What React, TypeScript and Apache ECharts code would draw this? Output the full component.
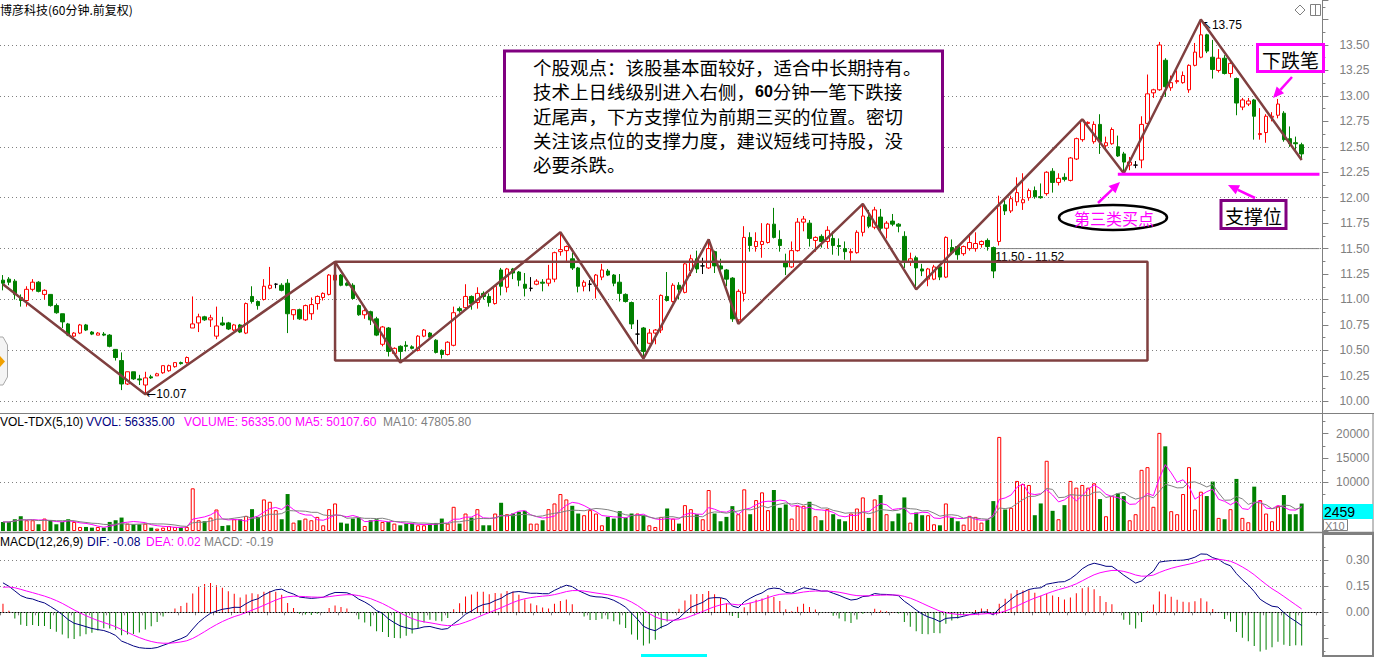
import React, { useEffect, useRef } from 'react';
import * as echarts from 'echarts';

// [open, close, low, high] for each 60-minute bar
const candles: number[][] = [
  [11.19, 11.16, 11.09, 11.24], [11.2, 11.17, 11.14, 11.22], [11.18, 11.05, 11.0, 11.2], [11.02, 10.99, 10.93, 11.05],
  [10.99, 11.1, 10.93, 11.13], [11.1, 11.17, 11.08, 11.2], [11.17, 11.08, 11.07, 11.18], [11.05, 11.09, 11.0, 11.1],
  [11.05, 10.94, 10.93, 11.05], [10.94, 10.87, 10.86, 10.96], [10.86, 10.78, 10.72, 10.86], [10.76, 10.65, 10.64, 10.77],
  [10.64, 10.67, 10.63, 10.68], [10.67, 10.75, 10.66, 10.76], [10.75, 10.7, 10.69, 10.76], [10.68, 10.66, 10.65, 10.69],
  [10.65, 10.67, 10.65, 10.68], [10.66, 10.65, 10.64, 10.68], [10.65, 10.54, 10.53, 10.66], [10.51, 10.43, 10.4, 10.51],
  [10.4, 10.17, 10.11, 10.48], [10.17, 10.29, 10.16, 10.29], [10.29, 10.22, 10.21, 10.29], [10.22, 10.21, 10.16, 10.26],
  [10.16, 10.23, 10.07, 10.29], [10.24, 10.23, 10.22, 10.26], [10.25, 10.27, 10.25, 10.28], [10.28, 10.35, 10.27, 10.35],
  [10.3, 10.35, 10.29, 10.36], [10.34, 10.38, 10.33, 10.38], [10.38, 10.37, 10.36, 10.39], [10.38, 10.43, 10.37, 10.44],
  [10.72, 10.76, 10.72, 11.03], [10.77, 10.83, 10.68, 10.86], [10.83, 10.8, 10.79, 10.84], [10.8, 10.82, 10.73, 10.85],
  [10.64, 10.74, 10.61, 10.93], [10.77, 10.75, 10.74, 10.83], [10.77, 10.71, 10.7, 10.78], [10.7, 10.75, 10.69, 10.76],
  [10.75, 10.68, 10.67, 10.76], [10.67, 10.96, 10.66, 10.97], [11.03, 10.98, 10.96, 11.13], [10.98, 10.94, 10.9, 10.99],
  [11.0, 11.13, 10.99, 11.2], [11.11, 11.14, 11.1, 11.32], [11.15, 11.15, 11.11, 11.16], [11.14, 11.09, 11.08, 11.16],
  [11.16, 10.86, 10.67, 11.2], [10.85, 10.9, 10.8, 10.9], [10.9, 10.81, 10.8, 10.91], [10.8, 10.94, 10.79, 10.95],
  [10.86, 10.95, 10.8, 11.02], [10.96, 11.03, 10.9, 11.04], [11.02, 11.06, 10.99, 11.07], [11.05, 11.24, 11.04, 11.25],
  [11.19, 11.24, 11.17, 11.37], [11.24, 11.14, 11.13, 11.25], [11.16, 11.14, 11.13, 11.17], [11.14, 11.01, 11.0, 11.16],
  [10.94, 10.85, 10.84, 10.95], [10.85, 10.89, 10.81, 10.93], [10.88, 10.8, 10.75, 10.89], [10.81, 10.65, 10.64, 10.83],
  [10.56, 10.73, 10.54, 10.74], [10.72, 10.49, 10.44, 10.73], [10.47, 10.52, 10.46, 10.53], [10.54, 10.49, 10.38, 10.55],
  [10.55, 10.54, 10.49, 10.59], [10.535, 10.52, 10.51, 10.55], [10.5, 10.64, 10.49, 10.65], [10.64, 10.7, 10.63, 10.71],
  [10.67, 10.63, 10.62, 10.68], [10.6, 10.48, 10.47, 10.61], [10.5, 10.46, 10.42, 10.51], [10.46, 10.58, 10.45, 10.59],
  [10.55, 10.87, 10.54, 10.93], [10.91, 10.89, 10.87, 10.93], [10.92, 11.03, 10.9, 11.15], [11.03, 10.96, 10.9, 11.04],
  [10.97, 11.06, 10.91, 11.12], [11.06, 11.03, 11.0, 11.08], [11.03, 10.97, 10.93, 11.06], [10.96, 11.13, 10.95, 11.14],
  [11.29, 11.13, 11.04, 11.31], [11.12, 11.3, 11.07, 11.31], [11.3, 11.26, 11.2, 11.31], [11.27, 11.19, 11.13, 11.28],
  [11.15, 11.11, 11.03, 11.26], [11.11, 11.11, 11.08, 11.22], [11.15, 11.18, 11.14, 11.2], [11.17, 11.16, 11.08, 11.2],
  [11.16, 11.2, 11.13, 11.34], [11.2, 11.46, 11.17, 11.47], [11.47, 11.49, 11.43, 11.66], [11.48, 11.52, 11.36, 11.53],
  [11.4, 11.31, 11.29, 11.46], [11.31, 11.13, 11.07, 11.32], [11.13, 11.17, 11.08, 11.19], [11.15, 11.15, 11.08, 11.19],
  [11.13, 11.24, 11.01, 11.25], [11.22, 11.29, 11.19, 11.35], [11.28, 11.24, 11.23, 11.3], [11.24, 11.16, 11.13, 11.25],
  [11.17, 11.06, 10.98, 11.25], [11.05, 10.98, 10.97, 11.06], [10.97, 10.76, 10.71, 10.98], [10.66, 10.66, 10.56, 10.8],
  [10.72, 10.49, 10.42, 10.73], [10.57, 10.67, 10.56, 10.71], [10.67, 10.7, 10.56, 10.71], [10.7, 11.04, 10.67, 11.05],
  [11.03, 10.99, 10.98, 11.27], [10.98, 11.14, 10.97, 11.16], [11.14, 11.1, 11.0, 11.17], [11.07, 11.35, 11.06, 11.36],
  [11.28, 11.4, 11.23, 11.44], [11.4, 11.3, 11.26, 11.48], [11.33, 11.33, 11.25, 11.41], [11.31, 11.5, 11.3, 11.59],
  [11.47, 11.33, 11.26, 11.48], [11.33, 11.3, 11.27, 11.4], [11.29, 11.2, 11.13, 11.3], [11.21, 10.81, 10.78, 11.22],
  [10.8, 11.08, 10.76, 11.1], [11.06, 11.61, 10.98, 11.72], [11.61, 11.53, 11.47, 11.66], [11.52, 11.57, 11.47, 11.66],
  [11.54, 11.57, 11.41, 11.75], [11.56, 11.74, 11.55, 11.75], [11.74, 11.61, 11.6, 11.9], [11.59, 11.53, 11.47, 11.68],
  [11.36, 11.32, 11.24, 11.45], [11.32, 11.48, 11.31, 11.57], [11.48, 11.76, 11.47, 11.8], [11.76, 11.79, 11.67, 11.82],
  [11.75, 11.6, 11.52, 11.78], [11.58, 11.61, 11.47, 11.62], [11.62, 11.57, 11.51, 11.64], [11.57, 11.68, 11.5, 11.72],
  [11.6, 11.53, 11.44, 11.67], [11.53, 11.52, 11.43, 11.6], [11.5, 11.47, 11.39, 11.57], [11.46, 11.47, 11.36, 11.5],
  [11.46, 11.66, 11.45, 11.68], [11.66, 11.82, 11.62, 11.94], [11.81, 11.72, 11.7, 11.88], [11.71, 11.88, 11.69, 11.91],
  [11.81, 11.7, 11.67, 11.89], [11.7, 11.75, 11.6, 11.77], [11.77, 11.74, 11.72, 11.84], [11.74, 11.72, 11.66, 11.75],
  [11.62, 11.38, 11.31, 11.67], [11.37, 11.4, 11.33, 11.46], [11.41, 11.31, 11.11, 11.43], [11.3, 11.28, 11.23, 11.35],
  [11.2, 11.3, 11.13, 11.31], [11.2, 11.32, 11.19, 11.34], [11.32, 11.22, 11.19, 11.33], [11.22, 11.61, 11.21, 11.62],
  [11.51, 11.46, 11.44, 11.59], [11.52, 11.44, 11.39, 11.53], [11.45, 11.52, 11.43, 11.53], [11.5, 11.56, 11.48, 11.65],
  [11.5, 11.55, 11.47, 11.66], [11.54, 11.57, 11.51, 11.58], [11.58, 11.52, 11.48, 11.6], [11.51, 11.28, 11.21, 11.52],
  [11.57, 11.92, 11.53, 12.02], [11.93, 11.87, 11.83, 12.0], [11.87, 11.99, 11.85, 12.02], [11.96, 12.05, 11.92, 12.2],
  [11.95, 11.98, 11.88, 12.24], [12.0, 12.07, 11.97, 12.09], [12.07, 12.01, 11.99, 12.11], [12.01, 12.0, 11.99, 12.14],
  [12.04, 12.25, 12.02, 12.26], [12.26, 12.15, 12.05, 12.29], [12.15, 12.19, 12.12, 12.24], [12.2, 12.18, 12.16, 12.24],
  [12.17, 12.39, 12.16, 12.4], [12.38, 12.58, 12.37, 12.59], [12.57, 12.76, 12.55, 12.77], [12.73, 12.74, 12.7, 12.75],
  [12.55, 12.72, 12.53, 12.75], [12.72, 12.55, 12.43, 12.82], [12.51, 12.54, 12.48, 12.6], [12.53, 12.67, 12.52, 12.69],
  [12.5, 12.41, 12.4, 12.61], [12.43, 12.35, 12.24, 12.45], [12.32, 12.35, 12.27, 12.4], [12.32, 12.32, 12.29, 12.36],
  [12.37, 12.72, 12.29, 12.8], [12.73, 13.02, 12.72, 13.21], [13.03, 13.06, 12.98, 13.07], [13.06, 13.5, 13.05, 13.53],
  [13.35, 13.09, 12.99, 13.37], [13.08, 13.13, 13.05, 13.2], [13.14, 13.15, 13.12, 13.25], [13.13, 13.2, 13.12, 13.24],
  [13.06, 13.3, 13.03, 13.31], [13.3, 13.43, 13.29, 13.52], [13.38, 13.6, 13.37, 13.75], [13.6, 13.44, 13.42, 13.61],
  [13.38, 13.26, 13.17, 13.55], [13.25, 13.37, 13.23, 13.46], [13.37, 13.22, 13.21, 13.4], [13.22, 13.32, 13.18, 13.34],
  [13.17, 12.93, 12.81, 13.18], [12.89, 12.96, 12.86, 12.98], [12.92, 12.95, 12.9, 12.98], [12.96, 12.8, 12.57, 12.97],
  [12.62, 12.63, 12.57, 12.88], [12.64, 12.8, 12.54, 12.82], [12.79, 12.8, 12.75, 12.84], [12.81, 12.92, 12.78, 12.97],
  [12.83, 12.57, 12.55, 12.85], [12.58, 12.53, 12.5, 12.7], [12.54, 12.53, 12.47, 12.6], [12.52, 12.43, 12.37, 12.54],
];

// volume per bar (shares); the axis shows it in units of 10
const volumes: number[] = [
  18630, 18630, 24150, 30360, 22080, 22080, 13800, 25530, 22080, 13800, 18630, 24150, 18630, 8280, 8280, 6900,
  8280, 6900, 18630, 22080, 27600, 15180, 13800, 13800, 15180, 6900, 4830, 6900, 10350, 8280, 6900, 8280,
  87630, 22080, 20010, 27600, 44160, 10350, 11730, 24150, 24150, 31050, 44850, 28980, 64860, 60030, 42780, 24150,
  75900, 17250, 22080, 25530, 22080, 28980, 11730, 44850, 56580, 17250, 15180, 25530, 27600, 10350, 22080, 24150,
  18630, 18630, 15180, 11730, 15180, 15180, 11730, 11730, 13800, 16560, 25530, 15180, 49680, 15180, 35880, 27600,
  44850, 11730, 11730, 35880, 57960, 34500, 35880, 39330, 41400, 15180, 15180, 22080, 44850, 56580, 75900, 64860,
  51750, 35880, 32430, 42780, 35880, 11730, 28980, 25530, 40710, 27600, 35880, 35880, 32430, 11730, 8280, 28980,
  46230, 25530, 15180, 53130, 44850, 34500, 24150, 84180, 35880, 20010, 28980, 51060, 34500, 85560, 34500, 63480,
  79350, 42780, 84180, 47610, 54510, 25530, 51750, 51750, 60030, 30360, 22080, 44850, 34500, 24150, 20010, 35880,
  46230, 69000, 26910, 64860, 73830, 34500, 20010, 35880, 69000, 17250, 37950, 32430, 32430, 13800, 11730, 56580,
  26910, 20010, 13110, 31050, 28980, 17250, 23460, 61410, 193200, 44160, 47610, 102810, 96600, 94530, 32430, 56580,
  144210, 41400, 24150, 53130, 102810, 89010, 94530, 89010, 97980, 65550, 30360, 71760, 77280, 71760, 22080, 34500,
  125580, 131100, 49680, 201480, 173880, 40710, 34500, 75900, 131100, 44160, 80730, 71760, 101430, 26910, 24150, 44850,
  106950, 26910, 17940, 91080, 63480, 35880, 20010, 51750, 73830, 34500, 34500, 56335,
];

// stroke ("bi") turning points: candle index and price
const biIndex: number[] = [0, 24, 56, 67, 94, 108, 119, 124, 145, 154, 182, 189, 202, 219];
const biPrice: number[] = [11.15, 10.07, 11.37, 10.38, 11.66, 10.42, 11.59, 10.76, 11.94, 11.1, 12.77, 12.24, 13.75, 12.37];

// pivot zone (zhongshu) box
const boxIndex: number[] = [56, 193];
const boxPrice: number[] = [11.37, 10.4];

// support level and the marked price level
const supportIndex: number[] = [188, 222];
const supportPrice = 12.23;
const levelIndex: number[] = [167, 222];
const levelPrice = 11.5;

const priceGrid: number[] = [10, 10.5, 11, 11.5, 12, 12.5, 13, 13.5];
const macdGrid: number[] = [0.15, 0.3];
const volGrid: number[] = [100000];

const commentLines: string[] = [
  '个股观点：该股基本面较好，适合中长期持有。',
  '技术上日线级别进入右侧，{b|60}分钟一笔下跌接',
  '近尾声，下方支撑位为前期三买的位置。密切',
  '关注该点位的支撑力度，建议短线可持股，没',
  '必要杀跌。',
];

const EXTRA_SLOTS = 3;
const categories: string[] = Array.from({ length: candles.length + EXTRA_SLOTS }, (_, i) => String(i + 1));

const CJK = '"Noto Sans CJK SC", sans-serif';
const LAT = '"Liberation Sans", "DejaVu Sans", Arial, sans-serif';
const RED = '#ff0000';
const GREEN = '#008000';
const GRAY = '#808080';
const MAG = '#ff00ff';
const NAVY = '#000080';
const BROWN = '#804040';

function movingAvg(arr: number[], n: number): number[] {
  return arr.map((_, i) => {
    const s = Math.max(0, i - n + 1);
    let sum = 0;
    for (let k = s; k <= i; k++) sum += arr[k];
    return sum / (i - s + 1);
  });
}

function computeMacd(closes: number[]) {
  let e12 = closes[0] + 0.1;
  let e26 = closes[0] - 0.07;
  let dea = 0.145;
  const dif: number[] = [];
  const deaArr: number[] = [];
  const bar: number[] = [];
  closes.forEach((c, i) => {
    if (i > 0) {
      e12 = (e12 * 11) / 13 + (c * 2) / 13;
      e26 = (e26 * 25) / 27 + (c * 2) / 27;
    }
    const d = e12 - e26;
    if (i > 0) dea = dea * 0.8 + d * 0.2;
    dif.push(d);
    deaArr.push(dea);
    bar.push(2 * (d - dea));
  });
  return { dif, dea: deaArr, bar };
}

function arrow(x1: number, y1: number, x2: number, y2: number, color: string): any[] {
  const ang = Math.atan2(y2 - y1, x2 - x1);
  const L = 11;
  const W = 5;
  const bx = x2 - L * Math.cos(ang);
  const by = y2 - L * Math.sin(ang);
  const px = -Math.sin(ang) * W;
  const py = Math.cos(ang) * W;
  return [
    { type: 'line', z: 100, shape: { x1, y1, x2: bx, y2: by }, style: { stroke: color, lineWidth: 2.5 } },
    { type: 'polygon', z: 100, shape: { points: [[x2, y2], [bx + px, by + py], [bx - px, by - py]] }, style: { fill: color } },
  ];
}

function txt(x: number, y: number, text: string, fill: string, font: string, extra: any = {}): any {
  return { type: 'text', z: 100, x, y, style: { text, fill, font, verticalAlign: 'middle', ...extra } };
}

function isMultiple(v: number, step: number) {
  const r = v / step;
  return Math.abs(r - Math.round(r)) < 1e-6;
}

export default function App() {
  const ref = useRef<HTMLDivElement>(null);

  useEffect(() => {
    if (!ref.current) return;
    const chart = echarts.init(ref.current, undefined, { renderer: 'svg' });

    const closes = candles.map((c) => c[1]);
    const macd = computeMacd(closes);
    const ma5 = movingAvg(volumes, 5);
    const ma10 = movingAvg(volumes, 10);

    const candleData = candles.map((c) => {
      if (c[0] === c[1]) {
        return { value: c, itemStyle: { color: '#000', color0: '#000', borderColor: '#000', borderColor0: '#000' } };
      }
      return c;
    });

    const volData = volumes.map((v, i) => {
      const up = candles[i][1] >= candles[i][0];
      return {
        value: v,
        itemStyle: up ? { color: '#ffffff', borderColor: RED, borderWidth: 1 } : { color: GREEN, borderColor: GREEN, borderWidth: 0 },
      };
    });

    const macdData = macd.bar.map((v) => ({ value: v, itemStyle: { color: v >= 0 ? RED : GREEN } }));

    const gridLeft = -1.97;
    const gridWidth = 1324.4;

    const dotted = { type: [1, 3] as any, color: GRAY, width: 1 };

    const yAxisCommon = {
      type: 'value',
      position: 'right',
      scale: true,
      axisLine: { show: true, lineStyle: { color: GRAY, width: 1 } },
      axisTick: { show: true, length: 6, lineStyle: { color: GRAY } },
      minorTick: { show: true, splitNumber: 2, length: 3, lineStyle: { color: GRAY } },
      splitLine: { show: false },
    };

    const arrowRich = { a: { fontFamily: '"DejaVu Sans"', fontSize: 12, color: '#000' } };

    const option: any = {
      animation: false,
      backgroundColor: '#ffffff',
      grid: [
        { left: gridLeft, width: gridWidth, top: 0, height: 413 },
        { left: gridLeft, width: gridWidth, top: 413, height: 118 },
        { left: gridLeft, width: gridWidth, top: 533, height: 122 },
      ],
      xAxis: [0, 1, 2].map((g) => ({
        type: 'category',
        gridIndex: g,
        data: categories,
        boundaryGap: true,
        axisLine: { show: g === 2, lineStyle: { color: GRAY } },
        axisTick: { show: g === 2, interval: 2, length: 3, lineStyle: { color: GRAY } },
        axisLabel: { show: false },
        splitLine: { show: false },
      })),
      yAxis: [
        {
          ...yAxisCommon,
          gridIndex: 0,
          min: 9.885,
          max: 13.942,
          minInterval: 0.25,
          maxInterval: 0.25,
          splitNumber: 16,
          axisLabel: {
            color: GRAY,
            fontSize: 12,
            fontFamily: LAT,
            align: 'right',
            margin: 47,
            formatter: (v: number) => (isMultiple(v, 0.25) && v > 9.99 && v < 13.6 ? v.toFixed(2) : ''),
          },
        },
        {
          ...yAxisCommon,
          gridIndex: 1,
          min: 0,
          max: 242300,
          minInterval: 50000,
          maxInterval: 50000,
          splitNumber: 5,
          axisLabel: {
            color: GRAY,
            fontSize: 12,
            fontFamily: LAT,
            align: 'right',
            margin: 47,
            // the 5000 label sits under the current-value box, as in the source
            formatter: (v: number) => (v > 60000 && isMultiple(v, 50000) ? String(Math.round(v / 10)) : ''),
          },
        },
        {
          ...yAxisCommon,
          gridIndex: 2,
          min: -0.2464,
          max: 0.4576,
          minInterval: 0.15,
          maxInterval: 0.15,
          splitNumber: 5,
          axisLabel: {
            color: GRAY,
            fontSize: 12,
            fontFamily: LAT,
            align: 'right',
            margin: 47,
            formatter: (v: number) => (v > -0.001 && v < 0.4 && isMultiple(v, 0.15) ? v.toFixed(2) : ''),
          },
        },
      ],
      series: [
        {
          type: 'candlestick',
          xAxisIndex: 0,
          yAxisIndex: 0,
          data: candleData,
          barWidth: 4,
          itemStyle: { color: '#ffffff', color0: GREEN, borderColor: RED, borderColor0: GREEN, borderWidth: 1 },
          markLine: {
            silent: true,
            symbol: ['none', 'none'],
            label: { show: false },
            lineStyle: dotted,
            z: 1,
            data: priceGrid.map((p) => ({ yAxis: p })),
          },
          markPoint: {
            symbol: 'circle',
            symbolSize: 0,
            silent: true,
            label: { show: true, position: 'right', distance: 1, color: '#000', fontSize: 12, fontFamily: LAT, rich: arrowRich },
            data: [
              { coord: [biIndex[1], biPrice[1]], label: { formatter: '{a|\u2190}' + biPrice[1].toFixed(2) } },
              { coord: [biIndex[12], biPrice[12]], label: { formatter: '{a|\u2196}' + biPrice[12].toFixed(2), offset: [0, 5] } },
              { coord: [levelIndex[0], levelPrice], label: { formatter: '11.50 - 11.52', offset: [0, 8], distance: 2 } },
            ],
          },
        },
        {
          type: 'line',
          xAxisIndex: 0,
          yAxisIndex: 0,
          data: biIndex.map((x, k) => [x, biPrice[k]]),
          symbol: 'none',
          lineStyle: { color: BROWN, width: 2.5 },
          z: 5,
        },
        {
          type: 'line',
          xAxisIndex: 0,
          yAxisIndex: 0,
          data: [
            [boxIndex[0], boxPrice[0]],
            [boxIndex[1], boxPrice[0]],
            [boxIndex[1], boxPrice[1]],
            [boxIndex[0], boxPrice[1]],
            [boxIndex[0], boxPrice[0]],
          ],
          symbol: 'none',
          lineStyle: { color: BROWN, width: 2.5 },
          z: 5,
        },
        {
          type: 'line',
          xAxisIndex: 0,
          yAxisIndex: 0,
          data: supportIndex.map((x) => [x, supportPrice]),
          symbol: 'none',
          lineStyle: { color: MAG, width: 3 },
          z: 6,
        },
        {
          type: 'line',
          xAxisIndex: 0,
          yAxisIndex: 0,
          data: levelIndex.map((x) => [x, levelPrice]),
          symbol: 'none',
          lineStyle: { color: GRAY, width: 1 },
          z: 1,
        },
        {
          type: 'bar',
          xAxisIndex: 1,
          yAxisIndex: 1,
          data: volData,
          barWidth: 4,
          markLine: {
            silent: true,
            symbol: ['none', 'none'],
            label: { show: false },
            lineStyle: dotted,
            data: volGrid.map((v) => ({ yAxis: v })),
          },
        },
        {
          type: 'line',
          xAxisIndex: 1,
          yAxisIndex: 1,
          data: ma5,
          symbol: 'none',
          lineStyle: { color: MAG, width: 1 },
        },
        {
          type: 'line',
          xAxisIndex: 1,
          yAxisIndex: 1,
          data: ma10,
          symbol: 'none',
          lineStyle: { color: GRAY, width: 1 },
        },
        {
          type: 'bar',
          xAxisIndex: 2,
          yAxisIndex: 2,
          data: macdData,
          barWidth: 1,
        },
        {
          type: 'line',
          xAxisIndex: 2,
          yAxisIndex: 2,
          data: macd.dif,
          symbol: 'none',
          lineStyle: { color: NAVY, width: 1 },
          markLine: {
            silent: true,
            symbol: ['none', 'none'],
            label: { show: false },
            data: [
              ...macdGrid.map((v) => ({ yAxis: v, lineStyle: dotted })),
              { yAxis: 0, lineStyle: { type: [1, 2], color: '#000', width: 1 } },
            ],
          },
        },
        {
          type: 'line',
          xAxisIndex: 2,
          yAxisIndex: 2,
          data: macd.dea,
          symbol: 'none',
          lineStyle: { color: MAG, width: 1 },
        },
      ],
      graphic: [
        // title
        txt(0, 9, '博彦科技(60分钟.前复权)', '#000', `12px ${CJK}`, { lineHeight: 14 }),
        // top-right icons
        { type: 'polygon', z: 100, shape: { points: [[1300, 5], [1305, 10], [1300, 15], [1295, 10]] }, style: { fill: 'none', stroke: GRAY, lineWidth: 1 } },
        { type: 'rect', z: 100, shape: { x: 1310.5, y: 4.5, width: 10, height: 11 }, style: { fill: 'none', stroke: GRAY, lineWidth: 1 } },
        { type: 'line', z: 100, shape: { x1: 1315.5, y1: 4.5, x2: 1315.5, y2: 15.5 }, style: { stroke: GRAY, lineWidth: 1 } },
        // left side icon
        { type: 'polygon', z: 100, shape: { points: [[-6, 337], [3, 337], [7.5, 345], [7.5, 377], [3, 385], [-6, 385]] }, style: { fill: '#f4f4f4', stroke: '#a8a8a8', lineWidth: 1 } },
        { type: 'polygon', z: 101, shape: { points: [[0, 356], [5, 361.5], [0, 367], [-5, 361.5]] }, style: { fill: '#f0a000' } },
        // comment box
        { type: 'rect', z: 100, shape: { x: 504.5, y: 51, width: 438, height: 140 }, style: { fill: '#ffffff', stroke: '#800080', lineWidth: 3 } },
        {
          type: 'text',
          z: 101,
          x: 533,
          y: 55,
          style: {
            text: commentLines.join('\n'),
            fill: '#000',
            font: `18.5px ${CJK}`,
            lineHeight: 24.2,
            verticalAlign: 'top',
            rich: { b: { fontSize: 16, fontWeight: 'bold', fontFamily: LAT, fill: '#000', lineHeight: 24.2 } },
          },
        },
        // down-stroke label
        { type: 'rect', z: 100, shape: { x: 1257.5, y: 44.5, width: 66, height: 27 }, style: { fill: '#ffffff', stroke: MAG, lineWidth: 3 } },
        txt(1290.5, 59, '下跌笔', '#000', `19px ${CJK}`, { align: 'center', lineHeight: 20 }),
        ...arrow(1292, 77, 1273, 98, MAG),
        // support label
        { type: 'rect', z: 100, shape: { x: 1221, y: 200.5, width: 65, height: 28 }, style: { fill: '#ffffff', stroke: '#800080', lineWidth: 3 } },
        txt(1253.5, 215, '支撑位', '#000', `19px ${CJK}`, { align: 'center', lineHeight: 20 }),
        ...arrow(1255, 198, 1228, 185, MAG),
        // third buy point label
        { type: 'ellipse', z: 100, shape: { cx: 1113, cy: 217.5, rx: 54, ry: 12.5 }, style: { fill: '#ffffff', stroke: '#000', lineWidth: 2.5 } },
        txt(1114, 218, '第三类买点', MAG, `16px ${CJK}`, { align: 'center', lineHeight: 18 }),
        ...arrow(1098, 203, 1120, 182, MAG),
        // pane separators
        { type: 'line', z: 90, shape: { x1: 0, y1: 413.5, x2: 1374, y2: 413.5 }, style: { stroke: GRAY, lineWidth: 1 } },
        { type: 'line', z: 90, shape: { x1: 0, y1: 532.5, x2: 1374, y2: 532.5 }, style: { stroke: GRAY, lineWidth: 1.5 } },
        { type: 'line', z: 90, shape: { x1: 1322.5, y1: 0, x2: 1322.5, y2: 657 }, style: { stroke: GRAY, lineWidth: 1 } },
        { type: 'line', z: 90, shape: { x1: 1373, y1: 413, x2: 1373, y2: 657 }, style: { stroke: GRAY, lineWidth: 1 } },
        { type: 'rect', z: 90, shape: { x: 1323, y: 534, width: 50, height: 122 }, style: { fill: 'none', stroke: GRAY, lineWidth: 2 } },
        // volume header
        txt(0, 421.5, 'VOL-TDX(5,10)', '#000', `12px ${LAT}`, { lineHeight: 13 }),
        txt(86, 421.5, 'VVOL: 56335.00', NAVY, `12px ${LAT}`, { lineHeight: 13 }),
        txt(184, 421.5, 'VOLUME: 56335.00', MAG, `12px ${LAT}`, { lineHeight: 13 }),
        txt(295, 421.5, 'MA5: 50107.60', MAG, `12px ${LAT}`, { lineHeight: 13 }),
        txt(383, 421.5, 'MA10: 47805.80', GRAY, `12px ${LAT}`, { lineHeight: 13 }),
        // volume value box
        { type: 'rect', z: 100, shape: { x: 1323, y: 504, width: 50, height: 15 }, style: { fill: '#00ffff' } },
        txt(1324, 511.5, '2459', '#000', `14px ${LAT}`, { lineHeight: 14 }),
        { type: 'rect', z: 100, shape: { x: 1323.5, y: 519.5, width: 24, height: 11 }, style: { fill: '#ffffff', stroke: GRAY, lineWidth: 1 } },
        txt(1325, 525.5, 'X10', GRAY, `11px ${LAT}`, { lineHeight: 11 }),
        // macd header
        txt(0, 541.5, 'MACD(12,26,9)', '#000', `12px ${LAT}`, { lineHeight: 13 }),
        txt(87, 541.5, 'DIF: -0.08', NAVY, `12px ${LAT}`, { lineHeight: 13 }),
        txt(146, 541.5, 'DEA: 0.02', MAG, `12px ${LAT}`, { lineHeight: 13 }),
        txt(204, 541.5, 'MACD: -0.19', GRAY, `12px ${LAT}`, { lineHeight: 13 }),
        // scroll indicator
        { type: 'rect', z: 100, shape: { x: 641, y: 654, width: 66, height: 3 }, style: { fill: '#00ffff' } },
      ],
    };

    chart.setOption(option);
    return () => chart.dispose();
  }, []);

  return <div ref={ref} style={{ position: 'fixed', left: 0, top: 0, width: 1374, height: 657, background: '#fff' }} />;
}
